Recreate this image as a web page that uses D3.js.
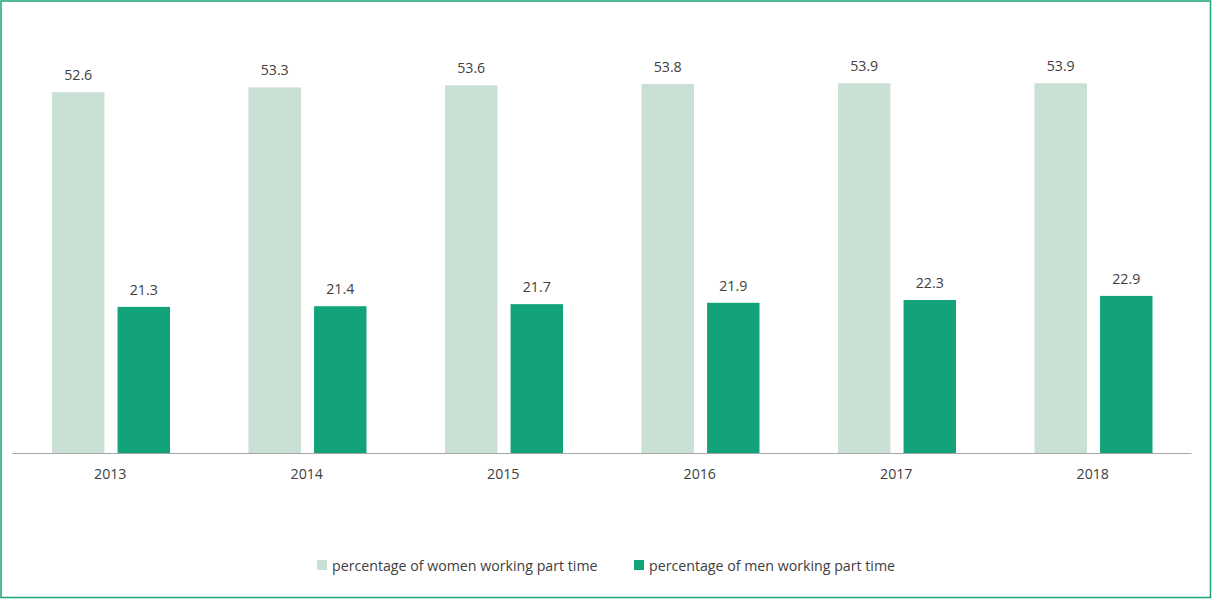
<!DOCTYPE html>
<html><head><meta charset="utf-8">
<script src="https://cdn.jsdelivr.net/npm/d3@7"></script>
<style>body{margin:0;background:#fff;}svg{display:block;}</style>
</head><body>
<svg id="c" width="1212" height="599"></svg>
<script>
const years = ["2013","2014","2015","2016","2017","2018"];
const women = [52.6,53.3,53.6,53.8,53.9,53.9];
const men = [21.3,21.4,21.7,21.9,22.3,22.9];
const seriesNames = ["percentage of women working part time","percentage of men working part time"];
const colors = ["#CAE0D5","#13A37A"];

const svg = d3.select("#c");
const W = 1212, H = 599;
const font = "'Open Sans', 'Noto Sans', sans-serif";
const fs = 14.2;
svg.append("rect").attr("x",1).attr("y",1).attr("width",W-2.5).attr("height",H-2.5)
  .attr("fill","#fff").attr("stroke","#1BA371").attr("stroke-width",1.5);

const x = d3.scaleBand().domain(years).range([12,1191]).paddingInner(0).paddingOuter(0);
const y = d3.scaleLinear().domain([0,60]).range([453,41.4]);
const sub = d3.scaleBand().domain([0,1]).range([40,158]).paddingInner(0.2);

const data = [women, men];
data.forEach((vals,si)=>{
  const g = svg.append("g");
  g.selectAll("rect").data(years).join("rect")
    .attr("x",d=>x(d)+sub(si))
    .attr("width",sub.bandwidth())
    .attr("y",(d,i)=>y(vals[i]))
    .attr("height",(d,i)=>y(0)-y(vals[i]))
    .attr("fill",colors[si]);
  g.selectAll("text").data(years).join("text")
    .attr("x",d=>x(d)+sub(si)+sub.bandwidth()/2)
    .attr("y",(d,i)=>y(vals[i])-12)
    .attr("text-anchor","middle")
    .attr("font-family",font).attr("font-size",fs).attr("fill","#404040")
    .text((d,i)=>vals[i].toFixed(1));
});

const ax = svg.append("g").attr("transform","translate(0,453)")
  .call(d3.axisBottom(x).tickSize(0).tickPadding(16));
ax.select(".domain").attr("stroke","#A6A6A6").attr("stroke-width",1.2);
ax.selectAll("text").attr("font-family",font).attr("font-size",fs).attr("fill","#404040");

const legX = [317, 634];
seriesNames.forEach((n,i)=>{
  svg.append("rect").attr("x",legX[i]).attr("y",560).attr("width",10).attr("height",10).attr("fill",colors[i]);
  svg.append("text").attr("x",legX[i]+15).attr("y",570.5)
    .attr("font-family",font).attr("font-size",fs).attr("fill","#404040").text(n);
});
</script>
</body></html>
